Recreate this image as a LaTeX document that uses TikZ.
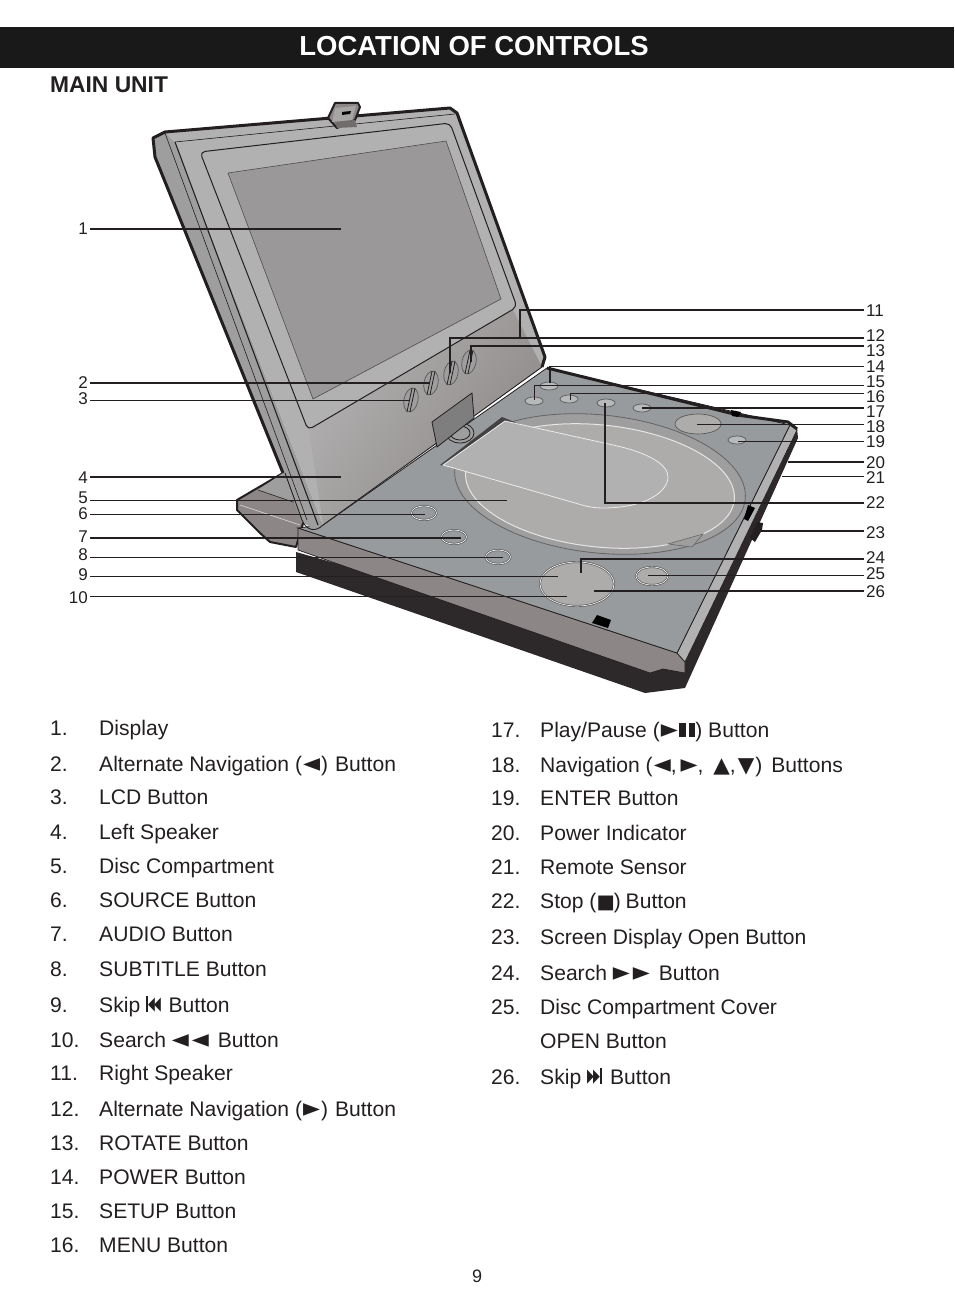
\documentclass[tikz,border=0pt]{standalone}
\usepackage{fontspec}
\setmainfont{Liberation Sans}
\newfontfamily\symfont{DejaVu Sans}
\usepackage{tikz}
\usetikzlibrary{positioning,shapes.geometric}

\definecolor{lidgray}{HTML}{B2B1B1}
\definecolor{screengray}{HTML}{9A9898}
\definecolor{sidegray}{HTML}{9F9E9E}
\definecolor{topgray}{HTML}{989B9D}
\definecolor{frontgray}{HTML}{8C8786}
\definecolor{bottomdark}{HTML}{2D292A}
\definecolor{discgray}{HTML}{AEABAB}
\definecolor{linedark}{HTML}{231F20}

\newcommand{\symL}{\scalebox{1.05}[1.2]{\symfont\char"25C4}}
\newcommand{\symR}{\scalebox{1.05}[1.2]{\symfont\char"25BA}}
\newcommand{\symU}{{\symfont\fontsize{21.5}{21.5}\selectfont\char"25B2}}
\newcommand{\symD}{{\symfont\fontsize{21.5}{21.5}\selectfont\char"25BC}}
\newcommand{\symS}{\scalebox{.92}{\symfont\char"25A0}}
\newcommand{\symPrev}{\rule{2pt}{16pt}\scalebox{.42}[1.35]{\symfont\char"25C4}\kern-.5pt\scalebox{.42}[1.35]{\symfont\char"25C4}}
\newcommand{\symNext}{\scalebox{.42}[1.35]{\symfont\char"25BA}\kern-.5pt\scalebox{.42}[1.35]{\symfont\char"25BA}\rule{2pt}{16pt}}
\newcommand{\symPause}{\rule{6.5pt}{14pt}\kern3pt\rule{6.5pt}{14pt}}

\tikzset{
  leadthin/.style={draw=linedark,line width=.9pt},
  leadthick/.style={draw=linedark,line width=1.9pt},
  leftlab/.style={anchor=base east,inner xsep=2pt,inner ysep=0pt,font=\fontsize{17}{17}\selectfont,text=linedark},
  rightlab/.style={anchor=base west,inner xsep=2pt,inner ysep=0pt,font=\fontsize{17}{17}\selectfont,text=linedark},
  entry/.style={anchor=base west,inner sep=0pt,yshift=1pt,font=\fontsize{21.1}{21.1}\selectfont,text=linedark},
  knob/.style={draw=gray!70!black,line width=.7pt,fill=topgray!70!white},
  hardedge/.style={draw=linedark,line width=3pt,line join=round}
}

\begin{document}
\begin{tikzpicture}[x=1pt,y=-1pt]
  \useasboundingbox (0,0) rectangle (954,1316);

  % heading
  \fill[black!90] (0,27) rectangle (954,68);
  \node[inner sep=0pt,text=white,font=\bfseries\fontsize{27.5}{27.5}\selectfont] (title) at (474,46) {LOCATION OF CONTROLS};
  \node[anchor=base west,inner sep=0pt,text=linedark,font=\bfseries\fontsize{22.8}{22.8}\selectfont] (unit) at (50,93) {MAIN UNIT};

  % base behind the lid
  \fill[frontgray,draw=linedark,line width=2pt,line join=round] (283,473) -- (237,500) -- (237,510) -- (260,533)
    -- (270,542) -- (296,547) -- (310,500) -- cycle;
  \fill[sidegray] (283,473) -- (258,490) -- (300,505) -- cycle;
  \draw[white!75!gray,line width=.6pt] (240,505) -- (300,525);
  \draw[linedark,line width=.6pt] (258,490) -- (296,503);

  % base, bottom then front then top
  \fill[bottomdark] (296,552) -- (296,572) -- (645,693) -- (685,688) -- (798,438) -- (797,428) -- (685,662) -- cycle;
  \fill[frontgray,draw=linedark,line width=.7pt] (298,528) -- (298,550) -- (650,673) -- (663,669) -- (685,673)
    -- (685,662) -- (677,653) -- cycle;
  \fill[lidgray,draw=linedark,line width=.7pt] (677,653) -- (685,662) -- (797,430) -- (790,425) -- cycle;
  \fill[topgray,draw=linedark,line width=.8pt] (298,528) -- (677,653) -- (790,425) -- (547,368) -- (323,525) -- cycle;
  \draw[hardedge] (547,368) -- (734,414);
  \draw[hardedge] (737,415) -- (788,422) -- (797,429);
  \fill[black] (731,410) -- (741,412) -- (738,417) -- (732,416) -- cycle;

  % disc well
  \draw[draw=linedark!70,fill=sidegray,line width=.8pt,rotate around={-6:(600,484)}] (600,484) ellipse (146pt and 69pt);
  \draw[draw=white!80!gray,fill=discgray,line width=1pt,rotate around={-6:(600,486)}] (600,486) ellipse (135pt and 61pt);
  \fill[sidegray,draw=linedark!70,line width=.6pt] (668,544) -- (703,534) -- (692,547) -- cycle;

  % disc cover
  \fill[linedark!85] (440,465) -- (502,417) -- (522,425) -- (505,421) -- (446,466) -- cycle;
  \fill[lidgray,draw=white!85!gray,line width=.8pt] (443,465) -- (505,421) -- (613,445)
    .. controls (650,453) and (668,465) .. (668,477)
    .. controls (668,492) and (645,508) .. (603,508)
    .. controls (590,508) and (582,505) .. (575,503) -- cycle;

  % buttons on the base
  \node[knob,ellipse,minimum width=18pt,minimum height=8pt,inner sep=0pt] (k14) at (549,386) {};
  \node[knob,ellipse,minimum width=18pt,minimum height=8pt,inner sep=0pt] (k15) at (534,401) {};
  \node[knob,ellipse,minimum width=18pt,minimum height=8pt,inner sep=0pt] (k16) at (569,399) {};
  \node[knob,ellipse,minimum width=18pt,minimum height=8pt,inner sep=0pt] (k22) at (606,403) {};
  \node[knob,ellipse,minimum width=18pt,minimum height=8pt,inner sep=0pt] (k17) at (642,408) {};
  \node[knob,ellipse,minimum width=46pt,minimum height=20pt,inner sep=0pt,fill=discgray] (k18) at (698,424) {};
  \node[knob,ellipse,minimum width=18pt,minimum height=8pt,inner sep=0pt] (k19) at (737,440) {};
  \node[knob,ellipse,minimum width=25pt,minimum height=14pt,inner sep=0pt,double,fill=topgray] (k6) at (424,513) {};
  \node[knob,ellipse,minimum width=25pt,minimum height=14pt,inner sep=0pt,double,fill=topgray] (k7) at (454,537) {};
  \node[knob,ellipse,minimum width=25pt,minimum height=14pt,inner sep=0pt,double,fill=topgray] (k8) at (498,557) {};
  \node[knob,ellipse,minimum width=74pt,minimum height=44pt,inner sep=0pt,fill=discgray,double] (k10) at (577,584) {};
  \node[knob,ellipse,minimum width=32pt,minimum height=18pt,inner sep=0pt,fill=discgray,double] (k25) at (652,576) {};

  % small black parts on the base
  \fill[black] (597,615) -- (611,620) -- (608,628) -- (592,623) -- cycle;
  \fill[black] (748,505) -- (755,508) -- (748,521) -- (744,519) -- cycle;
  \fill[linedark] (757,522) -- (763,523) -- (762,530) -- (755,542) -- (750,538) -- cycle;

  % lid
  \fill[sidegray] (155,157) -- (153,138) -- (165,132) -- (175,142) -- (323,525) -- (317,531) -- (302,522) -- cycle;
  \fill[lidgray] (175,142) -- (165,132) -- (450,108) -- (457,113) -- (545,357) -- (542,367) -- (323,525) -- cycle;
  \shade[top color=lidgray,middle color=lidgray,bottom color=frontgray,shading angle=54] (309,430) -- (513,310) -- (542,367) -- (323,525) -- cycle;
  \draw[hardedge] (283,473) -- (155,157) -- (153,138) -- (165,132) -- (450,108) -- (457,113) -- (545,357) -- (542,367);
  \draw[linedark,line width=1.1pt] (175,142) -- (318,525);
  \draw[linedark,line width=.6pt] (165,133) -- (307,520);
  \draw[linedark,line width=.6pt] (175,142) -- (455,114);
  \draw[linedark,line width=.9pt] (285,473) -- (302,520) .. controls (306,530) and (315,533) .. (323,525) -- (542,367);

  % screen
  \draw[linedark,line width=1pt,rounded corners=5pt] (200,152) -- (450,123) -- (517,307) -- (308,430) -- cycle;
  \fill[screengray,draw=linedark!80,line width=.6pt] (228,173) -- (446,141) -- (501,299) -- (313,399) -- cycle;

  % tab on top
  \fill[frontgray,draw=linedark,line width=2pt,line join=round] (328,118) -- (335,103) -- (358,103) -- (360,107) -- (355,120) -- (337,128) -- cycle;
  \fill[lidgray!70!frontgray] (335,108) -- (356,106) -- (352,120) -- (332,122) -- cycle;
  \fill[black] (342,112) -- (351,111) -- (350,114) -- (342,115) -- cycle;
  \fill[frontgray!80!black] (335,122) -- (355,120) -- (357,127) -- (337,128) -- cycle;

  % buttons on the lid
  \node[knob,ellipse,minimum width=14pt,minimum height=24pt,inner sep=0pt,rotate=-12,fill=sidegray] (k2) at (431,383) {};
  \node[knob,ellipse,minimum width=14pt,minimum height=24pt,inner sep=0pt,rotate=-12,fill=sidegray] (k3) at (411,400) {};
  \node[knob,ellipse,minimum width=14pt,minimum height=24pt,inner sep=0pt,rotate=-12,fill=sidegray] (k12) at (451,373) {};
  \node[knob,ellipse,minimum width=14pt,minimum height=24pt,inner sep=0pt,rotate=-12,fill=sidegray] (k13) at (469,362) {};
  \draw[linedark,line width=.8pt] ([xshift=-1.5pt]k2.north) -- ([xshift=-1.5pt]k2.south); \draw[linedark,line width=.8pt] ([xshift=1.5pt]k2.north) -- ([xshift=1.5pt]k2.south);
  \draw[linedark,line width=.8pt] ([xshift=-1.5pt]k3.north) -- ([xshift=-1.5pt]k3.south); \draw[linedark,line width=.8pt] ([xshift=1.5pt]k3.north) -- ([xshift=1.5pt]k3.south);
  \draw[linedark,line width=.8pt] ([xshift=-1.5pt]k12.north) -- ([xshift=-1.5pt]k12.south); \draw[linedark,line width=.8pt] ([xshift=1.5pt]k12.north) -- ([xshift=1.5pt]k12.south);
  \draw[linedark,line width=.8pt] ([xshift=-1.5pt]k13.north) -- ([xshift=-1.5pt]k13.south); \draw[linedark,line width=.8pt] ([xshift=1.5pt]k13.north) -- ([xshift=1.5pt]k13.south);

  % rotate hinge
  \draw[linedark,fill=sidegray,line width=.8pt] (460,433) ellipse (14pt and 10pt);
  \draw[linedark,line width=.8pt] (460,433) ellipse (10pt and 7pt);
  \fill[sidegray!80!black,draw=linedark,line width=.8pt] (432,422) -- (472,393) -- (474,418) -- (437,447) -- cycle;

  % left labels
  \node[leftlab] (l1) at (90,234) {1};
  \node[leftlab] (l2) at (90,388) {2};
  \node[leftlab] (l3) at (90,404) {3};
  \node[leftlab] (l4) at (90,483) {4};
  \node[leftlab] (l5) at (90,503) {5};
  \node[leftlab] (l6) at (90,519) {6};
  \node[leftlab] (l7) at (90,542) {7};
  \node[leftlab] (l8) at (90,560) {8};
  \node[leftlab] (l9) at (90,580) {9};
  \node[leftlab] (l10) at (90,603) {10};

  % right labels
  \node[rightlab] (l11) at (864,316) {11};
  \node[rightlab] (l12) at (864,341) {12};
  \node[rightlab] (l13) at (864,356) {13};
  \node[rightlab] (l14) at (864,372) {14};
  \node[rightlab] (l15) at (864,387) {15};
  \node[rightlab] (l16) at (864,402) {16};
  \node[rightlab] (l17) at (864,417) {17};
  \node[rightlab] (l18) at (864,432) {18};
  \node[rightlab] (l19) at (864,447) {19};
  \node[rightlab] (l20) at (864,468) {20};
  \node[rightlab] (l21) at (864,483) {21};
  \node[rightlab] (l22) at (864,508) {22};
  \node[rightlab] (l23) at (864,538) {23};
  \node[rightlab] (l24) at (864,563) {24};
  \node[rightlab] (l25) at (864,579) {25};
  \node[rightlab] (l26) at (864,597) {26};

  % ends of the leaders
  \coordinate (t1) at (341,229);
  \coordinate (t2) at (430,383);
  \coordinate (t3) at (410,400);
  \coordinate (t4) at (341,477);
  \coordinate (t5) at (507,500);
  \coordinate (t6) at (425,514);
  \coordinate (t7) at (461,538);
  \coordinate (t8) at (503,557);
  \coordinate (t9) at (558,576);
  \coordinate (t10) at (567,596);
  \coordinate (c11) at (520,310); \coordinate (t11) at (520,337);
  \coordinate (c12) at (450,338); \coordinate (t12) at (450,373);
  \coordinate (c13) at (471,346); \coordinate (t13) at (471,362);
  \coordinate (c14) at (550,366); \coordinate (t14) at (550,383);
  \coordinate (c15) at (534,385); \coordinate (t15) at (534,400);
  \coordinate (c16) at (570,393); \coordinate (t16) at (570,400);
  \coordinate (t17) at (642,408);
  \coordinate (t18) at (697,424);
  \coordinate (t19) at (738,441);
  \coordinate (t20) at (788,462);
  \coordinate (t21) at (782,476);
  \coordinate (c22) at (605,503); \coordinate (t22) at (605,403);
  \coordinate (t23) at (760,531);
  \coordinate (c24) at (581,559); \coordinate (t24) at (581,573);
  \coordinate (t25) at (648,575);
  \coordinate (t26) at (594,591);

  % leaders
  \draw[leadthick] (l1.east |- t1) -- (t1);
  \draw[leadthick] (l2.east |- t2) -- (t2);
  \draw[leadthin] (l3.east |- t3) -- (t3);
  \draw[leadthick] (l4.east |- t4) -- (t4);
  \draw[leadthin] (l5.east |- t5) -- (t5);
  \draw[leadthin] (l6.east |- t6) -- (t6);
  \draw[leadthick] (l7.east |- t7) -- (t7);
  \draw[leadthin] (l8.east |- t8) -- (t8);
  \draw[leadthin] (l9.east |- t9) -- (t9);
  \draw[leadthin] (l10.east |- t10) -- (t10);
  \draw[leadthick] (l11.west |- c11) -- (c11) -- (t11);
  \draw[leadthick] (l12.west |- c12) -- (c12) -- (t12);
  \draw[leadthick] (l13.west |- c13) -- (c13) -- (t13);
  \draw[leadthin] (l14.west |- c14) -- (c14);
  \draw[leadthick] (c14) -- (t14);
  \draw[leadthin] (l15.west |- c15) -- (c15) -- (t15);
  \draw[leadthin] (l16.west |- c16) -- (c16) -- (t16);
  \draw[leadthick] (l17.west |- t17) -- (t17);
  \draw[leadthin] (l18.west |- t18) -- (t18);
  \draw[leadthin] (l19.west |- t19) -- (t19);
  \draw[leadthick] (l20.west |- t20) -- (t20);
  \draw[leadthin] (l21.west |- t21) -- (t21);
  \draw[leadthin,line width=1.3pt] (l22.west |- c22) -- (c22) -- (t22);
  \draw[leadthick] (l23.west |- t23) -- (t23);
  \draw[leadthick] (l24.west |- c24) -- (c24) -- (t24);
  \draw[leadthin] (l25.west |- t25) -- (t25);
  \draw[leadthick] (l26.west |- t26) -- (t26);

  % list on the left
  \node[entry] (n1) at (50,736) {1.}; \node[entry] (e1) at (99,736) {Display};
  \node[entry] (n2) at (50,772) {2.}; \node[entry] (e2) at (99,772) {Alternate Navigation (\kern1pt\symL\kern1pt)\kern1pt\ Button};
  \node[entry] (n3) at (50,805) {3.}; \node[entry] (e3) at (99,805) {LCD Button};
  \node[entry] (n4) at (50,840) {4.}; \node[entry] (e4) at (99,840) {Left Speaker};
  \node[entry] (n5) at (50,874) {5.}; \node[entry] (e5) at (99,874) {Disc Compartment};
  \node[entry] (n6) at (50,908) {6.}; \node[entry] (e6) at (99,908) {SOURCE Button};
  \node[entry] (n7) at (50,942) {7.}; \node[entry] (e7) at (99,942) {AUDIO Button};
  \node[entry] (n8) at (50,977) {8.}; \node[entry] (e8) at (99,977) {SUBTITLE Button};
  \node[entry] (n9) at (50,1013) {9.}; \node[entry] (e9) at (99,1013) {Skip \symPrev\ \kern1.5pt Button};
  \node[entry] (n10) at (50,1048) {10.}; \node[entry] (e10) at (99,1048) {Search \symL\kern3pt\symL\ \kern3pt Button};
  \node[entry] (n11) at (50,1081) {11.}; \node[entry] (e11) at (99,1081) {Right Speaker};
  \node[entry] (n12) at (50,1117) {12.}; \node[entry] (e12) at (99,1117) {Alternate Navigation (\kern1pt\symR\kern1pt)\kern1pt\ Button};
  \node[entry] (n13) at (50,1151) {13.}; \node[entry] (e13) at (99,1151) {ROTATE Button};
  \node[entry] (n14) at (50,1185) {14.}; \node[entry] (e14) at (99,1185) {POWER Button};
  \node[entry] (n15) at (50,1219) {15.}; \node[entry] (e15) at (99,1219) {SETUP Button};
  \node[entry] (n16) at (50,1253) {16.}; \node[entry] (e16) at (99,1253) {MENU Button};

  % list on the right
  \node[entry] (n17) at (491,738) {17.}; \node[entry] (e17) at (540,738) {Play/Pause (\kern1pt\symR\kern1.5pt\symPause) Button};
  \node[entry] (n18) at (491,773) {18.}; \node[entry] (e18) at (540,773) {Navigation (\kern1pt\symL,\kern4pt\symR, \kern4pt\symU,\kern2pt\symD\kern1pt) \kern3pt Buttons};
  \node[entry] (n19) at (491,806) {19.}; \node[entry] (e19) at (540,806) {ENTER Button};
  \node[entry] (n20) at (491,841) {20.}; \node[entry] (e20) at (540,841) {Power Indicator};
  \node[entry] (n21) at (491,875) {21.}; \node[entry] (e21) at (540,875) {Remote Sensor};
  \node[entry] (n22) at (491,909) {22.}; \node[entry] (e22) at (540,909) {Stop (\symS\kern-1pt) \kern-1pt Button};
  \node[entry] (n23) at (491,945) {23.}; \node[entry] (e23) at (540,945) {Screen Display Open Button};
  \node[entry] (n24) at (491,981) {24.}; \node[entry] (e24) at (540,981) {Search \symR\kern3pt\symR\ \kern3pt Button};
  \node[entry] (n25) at (491,1015) {25.}; \node[entry] (e25) at (540,1015) {Disc Compartment Cover};
  \node[entry] (e25b) at (540,1049) {OPEN Button};
  \node[entry] (n26) at (491,1085) {26.}; \node[entry] (e26) at (540,1085) {Skip \symNext\ \kern2pt Button};

  \node[anchor=base,inner sep=0pt,text=linedark,font=\fontsize{18}{18}\selectfont] (page) at (477,1282) {9};
\end{tikzpicture}
\end{document}
